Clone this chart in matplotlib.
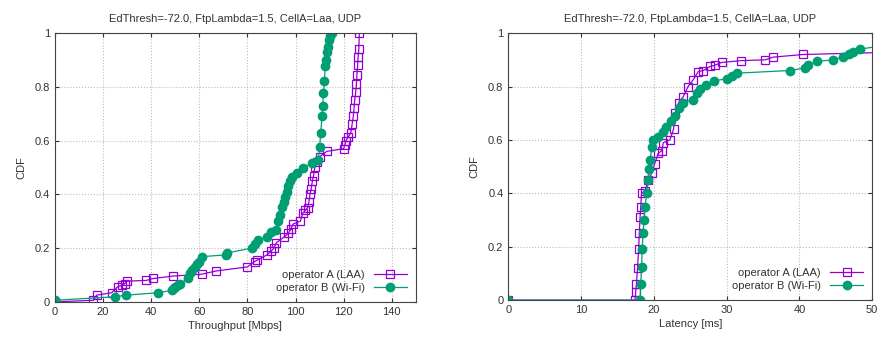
import matplotlib.pyplot as plt

plt.rcParams['font.family'] = ['Liberation Sans', 'DejaVu Sans']

TITLE = 'EdThresh=-72.0, FtpLambda=1.5, CellA=Laa, UDP'
PURPLE = '#9400d3'
GREEN = '#009e73'

# throughput CDF (Mbps)
thr_a_x = [0, 16, 17.3, 23.6, 26, 28, 29, 30, 38, 40.9, 49, 61, 67, 80, 83, 84, 88, 90, 91, 92,
           95, 97, 98, 99, 102, 103, 104, 105, 105.5, 106, 106.5, 107, 107.5, 108, 109, 110, 113,
           120, 120.5, 121, 122, 123, 123.5, 124, 124.3, 124.6, 125, 125.3, 125.5, 125.8, 126, 126.3, 126.5]
thr_a_y = [0, 0.006, 0.025, 0.034, 0.056, 0.062, 0.068, 0.077, 0.08, 0.087, 0.096, 0.103, 0.115, 0.13, 0.15, 0.155, 0.174, 0.19, 0.2, 0.22,
           0.24, 0.255, 0.27, 0.29, 0.3, 0.33, 0.34, 0.35, 0.37, 0.4, 0.42, 0.45, 0.47, 0.5, 0.52, 0.54, 0.56,
           0.57, 0.585, 0.6, 0.615, 0.63, 0.66, 0.69, 0.72, 0.75, 0.78, 0.81, 0.845, 0.88, 0.91, 0.94, 1.0]

thr_b_x = [0, 25, 29.5, 43, 48.5, 49.5, 50, 51, 52, 55.5, 56, 57, 58, 59, 60, 61, 71, 71.5, 81.8, 83, 84.5,
           88, 90, 92, 92.8, 93.5, 94.3, 95, 95.6, 96.3, 97, 97.7, 98.4, 100.5, 103, 106.7, 109.5, 110,
           110.5, 111, 111.3, 111.6, 112, 112.3, 112.7, 113, 113.4, 113.7, 114.3, 115]
thr_b_y = [0.006, 0.019, 0.025, 0.034, 0.043, 0.05, 0.056, 0.062, 0.068, 0.087, 0.106, 0.118, 0.13, 0.14, 0.15, 0.168, 0.175, 0.182, 0.2, 0.217, 0.23,
           0.24, 0.26, 0.267, 0.3, 0.325, 0.354, 0.37, 0.39, 0.41, 0.43, 0.45, 0.466, 0.478, 0.497, 0.515, 0.528, 0.578,
           0.63, 0.69, 0.73, 0.776, 0.82, 0.876, 0.9, 0.93, 0.95, 0.975, 0.99, 1.0]

# latency CDF (ms)
lat_a_x = [0, 17.4, 17.5, 17.6, 17.75, 17.9, 18.0, 18.1, 18.2, 18.3, 18.8, 19.2, 19.7, 20.1, 20.6, 21.1,
           21.3, 22.2, 22.7, 22.9, 23.4, 24, 24.7, 25.4, 26.1, 26.8, 27.7, 28.4, 29.3, 32, 35.3, 36.4, 40.5, 55]
lat_a_y = [0, 0, 0.03, 0.06, 0.12, 0.19, 0.25, 0.31, 0.35, 0.4, 0.41, 0.45, 0.475, 0.51, 0.55, 0.56,
           0.59, 0.6, 0.64, 0.7, 0.74, 0.76, 0.8, 0.825, 0.856, 0.86, 0.875, 0.88, 0.89, 0.897, 0.9, 0.91, 0.92, 0.93]

lat_b_x = [0, 18.1, 18.2, 18.3, 18.4, 18.5, 18.65, 18.8, 19, 19.2, 19.35, 19.5, 19.7, 19.9, 20.6, 21.3, 21.7,
           22.4, 22.9, 23.4, 24, 25.4, 25.9, 26.3, 27.2, 28.2, 30, 30.7, 31.4, 38.7, 40.8, 41.2, 42.4,
           44.6, 46, 46.8, 47.4, 48.3, 52]
lat_b_y = [0, 0, 0.06, 0.125, 0.19, 0.25, 0.3, 0.35, 0.4, 0.45, 0.49, 0.525, 0.575, 0.6, 0.61, 0.63, 0.65,
           0.67, 0.69, 0.72, 0.74, 0.75, 0.775, 0.79, 0.806, 0.82, 0.83, 0.84, 0.85, 0.86, 0.87, 0.88, 0.894,
           0.9, 0.91, 0.92, 0.93, 0.94, 0.955]


def style_axes(ax, xmax, xstep, xlabel):
    ax.set_xlim(0, xmax)
    ax.set_ylim(0, 1)
    ax.set_xticks(range(0, xmax + 1 if xmax % xstep == 0 else xmax, xstep))
    ax.set_yticks([0, 0.2, 0.4, 0.6, 0.8, 1.0])
    ax.set_yticklabels(['0', '0.2', '0.4', '0.6', '0.8', '1'])
    ax.tick_params(direction='in', top=True, right=True, labelsize=8, colors='#333333', length=3)
    ax.grid(True, color='#bbbbbb', linestyle=':', linewidth=0.8)
    for s in ax.spines.values():
        s.set_color('#444444')
    ax.set_xlabel(xlabel, fontsize=8, color='#333333', labelpad=3)
    ax.set_ylabel('CDF', fontsize=8, color='#333333', labelpad=6)
    ax.set_title(TITLE, fontsize=8, color='#333333', pad=8)
    ax.legend(loc='lower right', frameon=False, markerfirst=False, fontsize=8,
              handlelength=3, labelcolor='#333333', borderaxespad=0.4, labelspacing=0.3)


fig = plt.figure(figsize=(8.81, 3.45), dpi=100)
ax1 = fig.add_axes([0.0624, 0.125, 0.4096, 0.779])
ax2 = fig.add_axes([0.577, 0.130, 0.413, 0.774])

ax1.plot(thr_a_x, thr_a_y, color=PURPLE, lw=0.9, marker='s', ms=6, mfc='none', mew=0.9,
         label='operator A (LAA)')
ax1.plot(thr_b_x, thr_b_y, color=GREEN, lw=0.9, marker='o', ms=6, label='operator B (Wi-Fi)')
style_axes(ax1, 150, 20, 'Throughput [Mbps]')

ax2.plot(lat_a_x, lat_a_y, color=PURPLE, lw=0.9, marker='s', ms=6, mfc='none', mew=0.9,
         label='operator A (LAA)')
ax2.plot(lat_b_x, lat_b_y, color=GREEN, lw=0.9, marker='o', ms=6, label='operator B (Wi-Fi)')
style_axes(ax2, 50, 10, 'Latency [ms]')

fig.savefig('out.png', dpi=100)
